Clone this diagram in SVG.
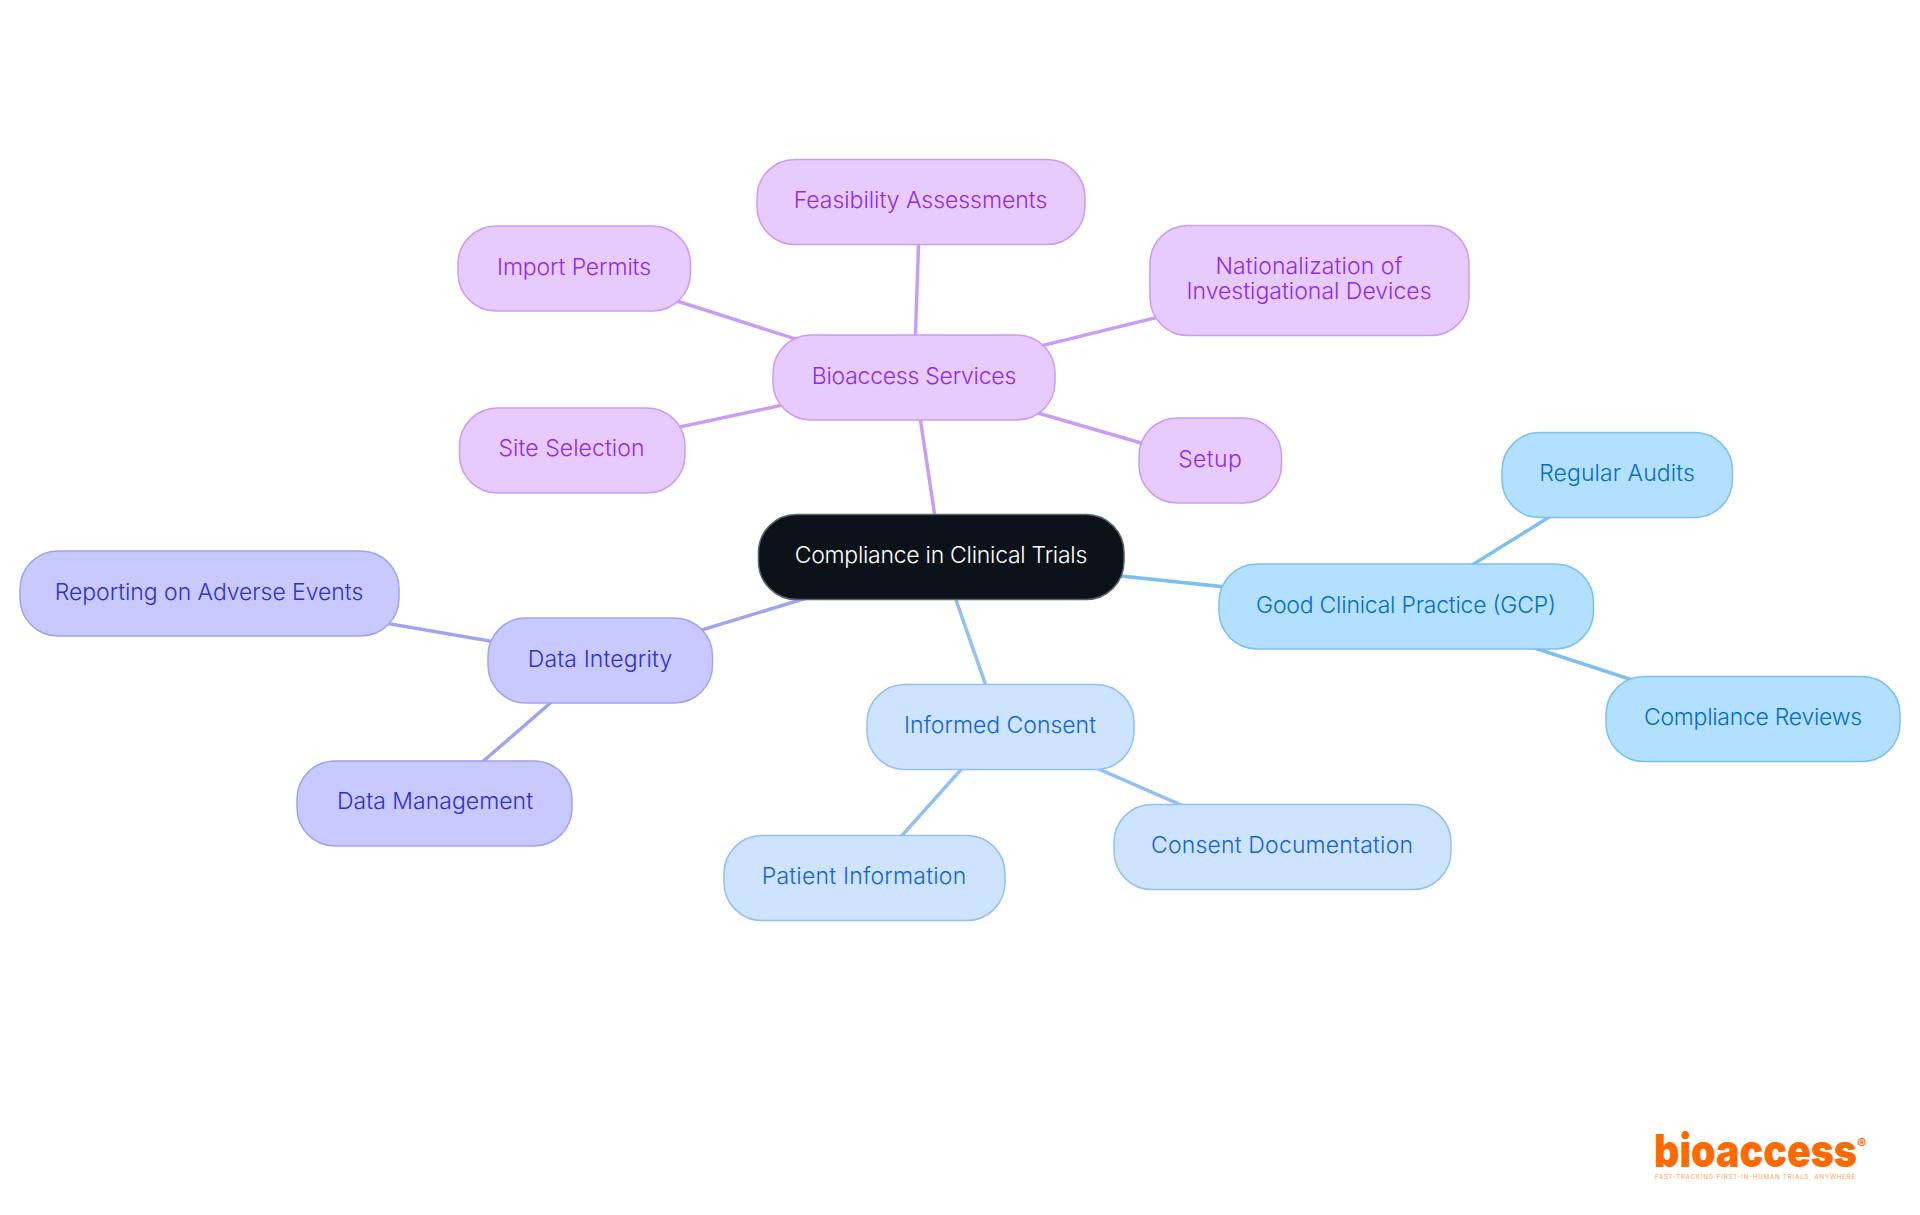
<svg xmlns="http://www.w3.org/2000/svg" width="1920" height="1215" viewBox="0 0 1920 1215">
<style>
text{font-family:"Inter","Noto Sans",sans-serif;font-size:23px;font-weight:350;text-anchor:middle}
.n rect{stroke-width:1.5}
.c line{stroke-width:3.5;fill:none}
.p rect{fill:#e8cbfe;stroke:#c99df3}.p text{fill:#8f2de2}
.i rect{fill:#c8caff;stroke:#a0a3f0}.i text{fill:#3030ca}
.b rect{fill:#cee3fd;stroke:#93c0f2}.b text{fill:#1263d6}
.s rect{fill:#b3e0ff;stroke:#7cc0f0}.s text{fill:#056dc4}
.r rect{fill:#0c121a;stroke:#5a6068}.r text{fill:#fff}
#logo text{font-family:"Inter","Liberation Sans",sans-serif;text-anchor:start}
</style>
<g id="connectors" class="c">
<line x1="941" y1="557" x2="914" y2="377" stroke="#c99df3"/>
<line x1="914" y1="377" x2="920" y2="202" stroke="#c99df3"/>
<line x1="914" y1="377" x2="574" y2="268" stroke="#c99df3"/>
<line x1="914" y1="377" x2="1310" y2="280" stroke="#c99df3"/>
<line x1="914" y1="377" x2="572" y2="450" stroke="#c99df3"/>
<line x1="914" y1="377" x2="1210" y2="463" stroke="#c99df3"/>
<line x1="941" y1="557" x2="1406" y2="606" stroke="#7cc0f0"/>
<line x1="1406" y1="606" x2="1617" y2="475" stroke="#7cc0f0"/>
<line x1="1406" y1="606" x2="1752" y2="719" stroke="#7cc0f0"/>
<line x1="941" y1="557" x2="1000" y2="726" stroke="#93c0f2"/>
<line x1="1000" y1="726" x2="1282" y2="849" stroke="#93c0f2"/>
<line x1="1000" y1="726" x2="864" y2="878" stroke="#93c0f2"/>
<line x1="941" y1="557" x2="600" y2="661" stroke="#a0a3f0"/>
<line x1="600" y1="660" x2="210" y2="593" stroke="#a0a3f0"/>
<line x1="600" y1="660" x2="435" y2="803" stroke="#a0a3f0"/>
</g>
<g id="n-root" class="n r"><rect x="758.5" y="514.5" width="365.5" height="85" rx="38"/><text x="941" y="563" textLength="292.600">Compliance in Clinical Trials</text></g>
<g id="n-bio" class="n p"><rect x="773" y="335" width="282" height="85" rx="38"/><text x="914" y="384" textLength="204.500">Bioaccess Services</text></g>
<g id="n-feas" class="n p"><rect x="757" y="159.500" width="328" height="85" rx="38"/><text x="920.500" y="208" textLength="253.500">Feasibility Assessments</text></g>
<g id="n-imp" class="n p"><rect x="458" y="226" width="232.500" height="85" rx="38"/><text x="574" y="275" textLength="154">Import Permits</text></g>
<g id="n-nat" class="n p"><rect x="1150" y="225.500" width="319" height="110" rx="38"/><text x="1309" y="274" textLength="187">Nationalization of</text><text x="1309" y="299" textLength="245">Investigational Devices</text></g>
<g id="n-site" class="n p"><rect x="459.500" y="408" width="225.500" height="85" rx="38"/><text x="571.500" y="456" textLength="146">Site Selection</text></g>
<g id="n-setup" class="n p"><rect x="1139" y="418" width="142.500" height="85" rx="38"/><text x="1210" y="467" textLength="63.700">Setup</text></g>
<g id="n-gcp" class="n s"><rect x="1219" y="564" width="374.500" height="85" rx="38"/><text x="1406" y="613" textLength="300">Good Clinical Practice (GCP)</text></g>
<g id="n-aud" class="n s"><rect x="1502" y="432.500" width="230.500" height="85" rx="38"/><text x="1617" y="481" textLength="155.500">Regular Audits</text></g>
<g id="n-rev" class="n s"><rect x="1606" y="676.500" width="294" height="85" rx="38"/><text x="1753" y="725" textLength="218">Compliance Reviews</text></g>
<g id="n-cons" class="n b"><rect x="867" y="684.500" width="267" height="85" rx="38"/><text x="1000" y="733" textLength="192">Informed Consent</text></g>
<g id="n-doc" class="n b"><rect x="1114" y="804.500" width="337" height="85" rx="38"/><text x="1282" y="853" textLength="262">Consent Documentation</text></g>
<g id="n-pat" class="n b"><rect x="724" y="835.500" width="281" height="85" rx="38"/><text x="864" y="884" textLength="204.500">Patient Information</text></g>
<g id="n-data" class="n i"><rect x="488" y="618" width="224.500" height="85" rx="38"/><text x="600" y="667" textLength="144.500">Data Integrity</text></g>
<g id="n-rep" class="n i"><rect x="20" y="551" width="379" height="85" rx="38"/><text x="209" y="600" textLength="308.600">Reporting on Adverse Events</text></g>
<g id="n-man" class="n i"><rect x="297" y="761" width="275" height="85" rx="38"/><text x="435" y="809" textLength="196">Data Management</text></g>
<g id="logo">
<text x="1654" y="1166.500" style="font-size:46px;font-weight:900;fill:#ff6a00" textLength="203" lengthAdjust="spacingAndGlyphs">bioaccess</text>
<text x="1857" y="1149" style="font-size:14px;font-weight:700;fill:#ff6a00">®</text>
<text x="1655" y="1179" style="font-size:6px;font-weight:400;fill:#ff9a50" textLength="200">FAST-TRACKING FIRST-IN-HUMAN TRIALS, ANYWHERE</text>
</g>
</svg>
